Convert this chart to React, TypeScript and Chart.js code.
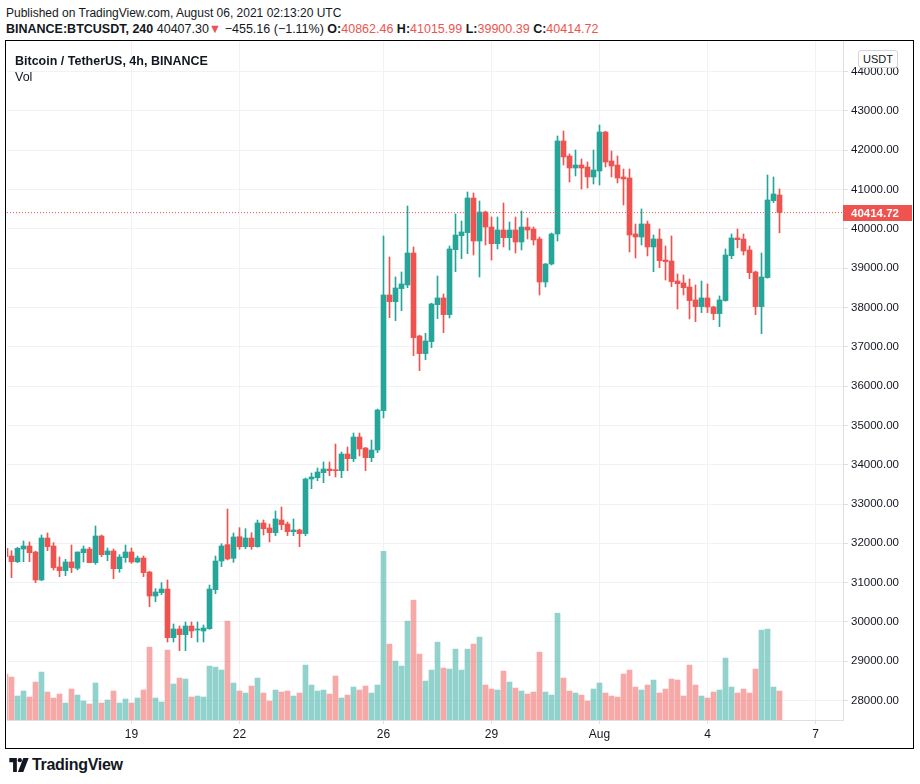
import React, { useEffect, useRef } from "react";
import { Chart, registerables } from "chart.js";

Chart.register(...registerables);

// BINANCE:BTCUSDT, 4h candles, first candle 2021-07-15 12:00 UTC, last 2021-08-06 00:00 UTC
const START_TIME = Date.UTC(2021, 6, 15, 12);
const CANDLE_MS = 4 * 3600 * 1000;

const open = [
  31870, 31677, 31533, 31855, 31932, 31779, 31067, 32135, 31932, 31398,
  31304, 31525, 31364, 31762, 31855, 31508, 32186, 31711, 31805, 31355,
  31635, 31779, 31524, 31626, 31270, 30659, 30744, 30837, 29599, 29820,
  29676, 29896, 29794, 29769, 29828, 30820, 31550, 31966, 31618, 32169,
  31915, 32135, 31915, 32517, 32390, 32271, 32593, 32491, 32296, 32339,
  32246, 33636, 33670, 33797, 33891, 33865, 33848, 34272, 34153, 34705,
  34425, 34179, 34374, 35376, 38319, 38149, 38480, 38573, 39387, 37276,
  36827, 37132, 38073, 38243, 37819, 39472, 39828, 39905, 40786, 39692,
  40430, 40048, 39624, 39972, 39777, 39972, 39667, 40048, 39997, 39743,
  38649, 39107, 39871, 42237, 41855, 41550, 41626, 41575, 41321, 41473,
  42466, 41728, 41626, 41321, 41295, 39871, 39794, 40125, 39540, 39744,
  39209, 39184, 38675, 38624, 38522, 38192, 38022, 38243, 38014, 37844,
  38175, 39319, 39769, 39743, 39463, 38904, 38022, 38760, 40719, 40862.46,
];
const high = [
  31950, 31813, 31898, 32059, 32034, 31800, 32212, 32263, 32017, 31652,
  31593, 31957, 31779, 31932, 31898, 32441, 32212, 31881, 31855, 31711,
  31957, 31880, 31677, 31677, 31290, 30846, 30999, 31067, 29947, 29896,
  29998, 29998, 29998, 29922, 30939, 31677, 31991, 32873, 32263, 32398,
  32373, 32271, 32593, 32593, 32491, 32822, 32924, 32542, 32619, 32360,
  33662, 33789, 33916, 34069, 34069, 34527, 34323, 34450, 34806, 34806,
  34440, 34628, 35417, 39820, 39285, 38777, 38904, 40583, 39540, 37300,
  37344, 38110, 38802, 38344, 39565, 40379, 40201, 40939, 40913, 40710,
  40450, 40303, 40303, 40659, 40176, 40303, 40455, 40277, 40048, 39794,
  39120, 39896, 42364, 42491, 41906, 42008, 41779, 41702, 42008, 42644,
  42480, 41982, 41855, 41524, 41524, 40125, 40507, 40201, 39845, 39998,
  39565, 39820, 38853, 38827, 38726, 38573, 38675, 38599, 38030, 38294,
  39489, 39871, 39998, 39871, 39565, 38929, 39387, 41372, 41321, 41015.99,
];
const low = [
  31600, 31126, 31508, 31533, 31533, 30999, 31050, 31813, 31321, 31152,
  31177, 31254, 31321, 31525, 31508, 31466, 31660, 31559, 31101, 31262,
  31516, 31490, 31507, 31151, 30388, 30515, 30693, 29489, 29489, 29269,
  29269, 29599, 29489, 29489, 29810, 30719, 31406, 31576, 31516, 31847,
  31864, 31847, 31900, 32212, 32034, 32195, 32347, 32195, 32195, 31915,
  32195, 33390, 33594, 33543, 33721, 33687, 33670, 33848, 34077, 34221,
  33848, 34077, 34306, 35190, 37742, 37666, 37920, 38505, 36776, 36394,
  36674, 36979, 37717, 37361, 37734, 38912, 39243, 39370, 39336, 38776,
  39590, 39209, 39489, 39540, 39463, 39387, 39463, 39743, 39590, 38318,
  38522, 39080, 39692, 41626, 41193, 41346, 41015, 41041, 41143, 41117,
  41575, 41321, 41168, 40608, 39413, 39260, 39591, 39311, 38912, 39014,
  38700, 38531, 37963, 38319, 37708, 37640, 37870, 37870, 37691, 37513,
  38160, 39243, 39515, 39336, 38734, 37818, 37335, 38745, 40668, 39900.39,
];
const close = [
  31660, 31533, 31872, 31932, 31762, 31067, 32135, 31915, 31381, 31304,
  31525, 31381, 31779, 31855, 31508, 32186, 31711, 31805, 31355, 31652,
  31779, 31524, 31626, 31253, 30659, 30761, 30837, 29599, 29820, 29676,
  29896, 29769, 29811, 29845, 30837, 31550, 31932, 31601, 32161, 31915,
  32135, 31915, 32517, 32373, 32271, 32619, 32474, 32296, 32339, 32246,
  33636, 33687, 33814, 33891, 33848, 33848, 34272, 34153, 34705, 34399,
  34179, 34374, 35392, 38319, 38149, 38497, 38599, 39387, 37233, 36827,
  37149, 38090, 38243, 37819, 39489, 39845, 39922, 40786, 39692, 40430,
  40048, 39624, 39972, 39777, 39972, 39667, 40048, 39972, 39718, 38649,
  39107, 39870, 42237, 41830, 41550, 41626, 41550, 41321, 41499, 42466,
  41702, 41601, 41295, 41270, 39845, 39794, 40125, 39540, 39744, 39192,
  39167, 38658, 38607, 38505, 38175, 38022, 38243, 38014, 37844, 38192,
  39336, 39769, 39726, 39438, 38887, 38022, 38777, 40736, 40888, 40414.72,
];
// volume, in units of 250 BTC (approx.)
const volume = [
  46, 43, 24, 29, 23, 38, 48, 28, 22, 26,
  17, 31, 25, 19, 16, 37, 17, 20, 29, 17,
  21, 17, 22, 30, 73, 22, 18, 70, 36, 42,
  41, 23, 24, 23, 54, 53, 50, 99, 37, 29,
  27, 34, 42, 27, 19, 30, 28, 29, 24, 27,
  55, 35, 29, 30, 26, 44, 22, 25, 33, 30,
  34, 27, 35, 169, 76, 59, 54, 99, 120, 66,
  39, 50, 78, 52, 51, 71, 50, 71, 76, 83,
  35, 31, 30, 49, 38, 32, 29, 26, 28, 68,
  28, 25, 107, 42, 29, 27, 25, 19, 31, 37,
  27, 24, 23, 46, 50, 33, 30, 35, 40, 27,
  31, 41, 40, 24, 55, 35, 24, 22, 28, 30,
  62, 33, 27, 31, 27, 51, 90, 91, 33, 29,
];

const timeTickDates = ["2021-07-19", "2021-07-22", "2021-07-26", "2021-07-29", "2021-08-01", "2021-08-04", "2021-08-07"];
const timeTickLabels = ["19", "22", "26", "29", "Aug", "4", "7"];
const priceTicks = [
  28000, 29000, 30000, 31000, 32000, 33000, 34000, 35000, 36000,
  37000, 38000, 39000, 40000, 41000, 42000, 43000, 44000,
];

const UP = "#26a69a";
const DOWN = "#ef5350";
const UP_VOL = "rgba(38,166,154,0.5)";
const DOWN_VOL = "rgba(239,83,80,0.5)";
const GRID = "#f0f2f5";
const AXIS_LINE = "#dcdfe6";
const TEXT = "#131722";
const FONT = "'Liberation Sans', Arial, sans-serif";

// visible window (in candle index units / price units)
const X_MIN = 0.25;
const X_MAX = 139.583;
const Y_MIN = 27504;
const Y_MAX = 44781;
const VOL_MAX = 680;

const LAST_PRICE = close[close.length - 1];
const LAST_UP = close[close.length - 1] >= open[open.length - 1];

const lastPricePlugin = {
  id: "lastPriceLabel",
  afterDraw(chart: any) {
    const y = chart.scales.y.getPixelForValue(LAST_PRICE);
    const ctx = chart.ctx;
    const right = chart.chartArea.right;
    ctx.save();
    ctx.fillStyle = LAST_UP ? UP : DOWN;
    ctx.fillRect(right, Math.round(y) - 8, chart.width - right, 16);
    ctx.fillStyle = "#ffffff";
    ctx.font = `bold 11.5px ${FONT}`;
    ctx.textBaseline = "middle";
    ctx.textAlign = "left";
    ctx.fillText(LAST_PRICE.toFixed(2), right + 8, Math.round(y) + 0.5);
    ctx.restore();
  },
};

function CandleChart() {
  const ref = useRef<HTMLCanvasElement>(null);
  useEffect(() => {
    if (!ref.current) return;
    const idx = open.map((_, i) => i);
    const isUp = idx.map((i) => close[i] >= open[i]);
    const candleColors = isUp.map((u) => (u ? UP : DOWN));
    const volColors = isUp.map((u) => (u ? UP_VOL : DOWN_VOL));
    const tickIdx = timeTickDates.map((d) => (Date.parse(d + "T00:00:00Z") - START_TIME) / CANDLE_MS);

    const chart = new Chart(ref.current, {
      type: "bar",
      data: {
        datasets: [
          {
            type: "line",
            label: "last",
            yAxisID: "y",
            data: [
              { x: X_MIN, y: LAST_PRICE },
              { x: X_MAX, y: LAST_PRICE },
            ],
            borderColor: DOWN,
            borderWidth: 1,
            borderDash: [1, 2],
            pointRadius: 0,
            order: 0,
          } as any,
          {
            type: "bar",
            label: "body",
            yAxisID: "y",
            data: idx.map((i) => ({ x: i, y: [open[i], close[i]] })) as any,
            backgroundColor: candleColors,
            barThickness: 5,
            minBarLength: 1,
            grouped: false,
            borderWidth: 0,
            order: 1,
          },
          {
            type: "bar",
            label: "wick",
            yAxisID: "y",
            data: idx.map((i) => ({ x: i, y: [low[i], high[i]] })) as any,
            backgroundColor: candleColors,
            barThickness: 1,
            grouped: false,
            borderWidth: 0,
            order: 2,
          },
          {
            type: "bar",
            label: "volume",
            yAxisID: "y1",
            data: idx.map((i) => ({ x: i, y: volume[i] })) as any,
            backgroundColor: volColors,
            barThickness: 5,
            grouped: false,
            borderWidth: 0,
            order: 3,
          },
        ],
      },
      options: {
        responsive: false,
        animation: false,
        devicePixelRatio: 1,
        layout: { padding: 0 },
        plugins: { legend: { display: false }, tooltip: { enabled: false } },
        scales: {
          x: {
            type: "linear",
            min: X_MIN,
            max: X_MAX,
            offset: false,
            position: "bottom",
            afterBuildTicks: (s: any) => {
              s.ticks = tickIdx.map((v) => ({ value: v }));
            },
            afterFit: (s: any) => {
              s.height = 28;
              s.paddingLeft = 0;
              s.paddingRight = 0;
            },
            ticks: {
              autoSkip: false,
              maxRotation: 0,
              padding: 3,
              color: TEXT,
              font: { family: FONT, size: 12 },
              callback: (_v: any, i: number) => timeTickLabels[i],
            },
            grid: { color: GRID, offset: false, tickLength: 4, tickColor: AXIS_LINE },
            border: { color: AXIS_LINE },
          },
          y: {
            type: "linear",
            position: "right",
            min: Y_MIN,
            max: Y_MAX,
            afterBuildTicks: (s: any) => {
              s.ticks = priceTicks.map((v) => ({ value: v }));
            },
            afterFit: (s: any) => {
              s.width = 69;
              s.paddingTop = 0;
              s.paddingBottom = 0;
            },
            ticks: {
              autoSkip: false,
              padding: 3,
              color: TEXT,
              font: { family: FONT, size: 11.5 },
              callback: (v: any) => Number(v).toFixed(2),
            },
            grid: { color: GRID, tickLength: 5, tickColor: AXIS_LINE },
            border: { color: AXIS_LINE },
          },
          y1: { type: "linear", display: false, min: 0, max: VOL_MAX },
        },
      } as any,
      plugins: [lastPricePlugin],
    });
    return () => chart.destroy();
  }, []);
  return <canvas ref={ref} width={905} height={707} style={{ position: "absolute", left: 7, top: 41, width: 905, height: 707 }} />;
}

function Logo() {
  return (
    <svg width="20" height="14" viewBox="0 0 36 26" style={{ position: "absolute", left: 9, top: 758 }}>
      <path d="M0 0 H14 V26 H7 V8 H0 Z" fill={TEXT} />
      <circle cx="19.5" cy="4" r="4" fill={TEXT} />
      <path d="M26 0 H36 L26 26 H16 Z" fill={TEXT} />
    </svg>
  );
}

export default function App() {
  const base: React.CSSProperties = { position: "absolute", whiteSpace: "nowrap", fontFamily: FONT, color: TEXT };
  return (
    <div style={{ position: "absolute", left: 0, top: 0, width: 920, height: 784, background: "#ffffff", overflow: "hidden" }}>
      <div style={{ ...base, left: 6, top: 5, fontSize: 12, lineHeight: "16px" }}>
        Published on TradingView.com, August 06, 2021 02:13:20 UTC
      </div>
      <div style={{ ...base, left: 6, top: 21, fontSize: 12.5, lineHeight: "16px" }}>
        <b>BINANCE:BTCUSDT, 240</b> 40407.30<span style={{ color: DOWN }}>▼</span> −455.16 (−1.11%){" "}
        <b>O:</b>
        <span style={{ color: DOWN }}>40862.46</span> <b>H:</b>
        <span style={{ color: DOWN }}>41015.99</span> <b>L:</b>
        <span style={{ color: DOWN }}>39900.39</span> <b>C:</b>
        <span style={{ color: DOWN }}>40414.72</span>
      </div>
      <div style={{ position: "absolute", left: 5, top: 40, width: 907, height: 707, border: "1px solid #000" }} />
      <CandleChart />
      <div style={{ ...base, left: 15, top: 53, fontSize: 12.5, lineHeight: "16px", fontWeight: "bold" }}>
        Bitcoin / TetherUS, 4h, BINANCE
      </div>
      <div style={{ ...base, left: 15, top: 69, fontSize: 12.5, lineHeight: "16px" }}>Vol</div>
      <div
        style={{
          ...base,
          left: 858,
          top: 50,
          width: 38,
          height: 16,
          border: "1px solid #d1d4dc",
          borderRadius: 3,
          fontSize: 11,
          lineHeight: "16px",
          textAlign: "center",
          background: "#fff",
        }}
      >
        USDT
      </div>
      <Logo />
      <div style={{ ...base, left: 32, top: 756, fontSize: 16, lineHeight: "18px", fontWeight: "bold", letterSpacing: -0.3 }}>
        TradingView
      </div>
    </div>
  );
}
